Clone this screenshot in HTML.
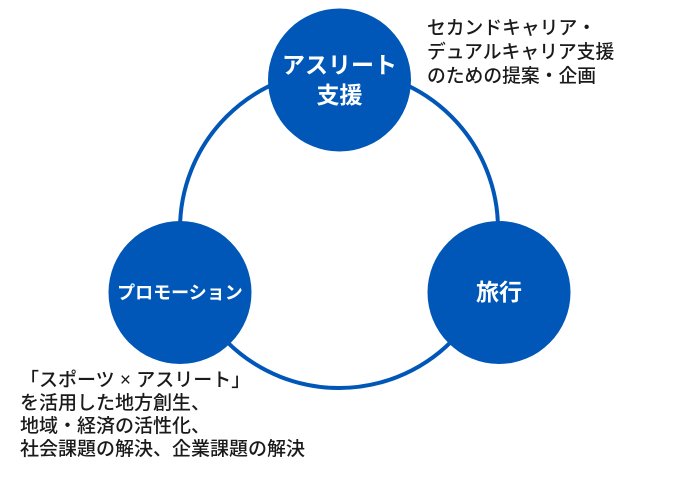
<!DOCTYPE html>
<html><head><meta charset="utf-8"><style>
html,body{margin:0;padding:0;background:#fff;}
body{width:679px;height:480px;position:relative;overflow:hidden;font-family:"Liberation Sans","Noto Sans CJK JP",sans-serif;}
.t{position:absolute;color:#1a1a1a;white-space:nowrap;font-weight:500;}
</style></head><body>
<svg width="679" height="480" style="position:absolute;left:0;top:0">
<circle cx="339" cy="229" r="159" fill="none" stroke="#0057b8" stroke-width="4"/>
<circle cx="339.5" cy="80" r="71.5" fill="#0057b8"/>
<circle cx="499" cy="292.5" r="71.5" fill="#0057b8"/>
<circle cx="180" cy="292.5" r="71.5" fill="#0057b8"/>
<g font-family="Liberation Sans, Noto Sans CJK JP, sans-serif" font-weight="bold" fill="#fff" text-anchor="middle">
<text x="339.5" y="73" font-size="23">アスリート</text>
<text x="339.5" y="103" font-size="23">支援</text>
<text x="499" y="300" font-size="23">旅行</text>
<text x="180" y="299" font-size="18">プロモーション</text>
</g>
</svg>
<div class="t" style="left:427px;top:16px;font-size:18.8px;line-height:24px;">セカンドキャリア・<br>デュアルキャリア支援<br>のための提案・企画</div>
<div class="t" style="left:20px;top:369px;font-size:19px;line-height:23px;">「スポーツ × アスリート」<br>を活用した地方創生、<br>地域・経済の活性化、<br>社会課題の解決、企業課題の解決</div>
</body></html>
